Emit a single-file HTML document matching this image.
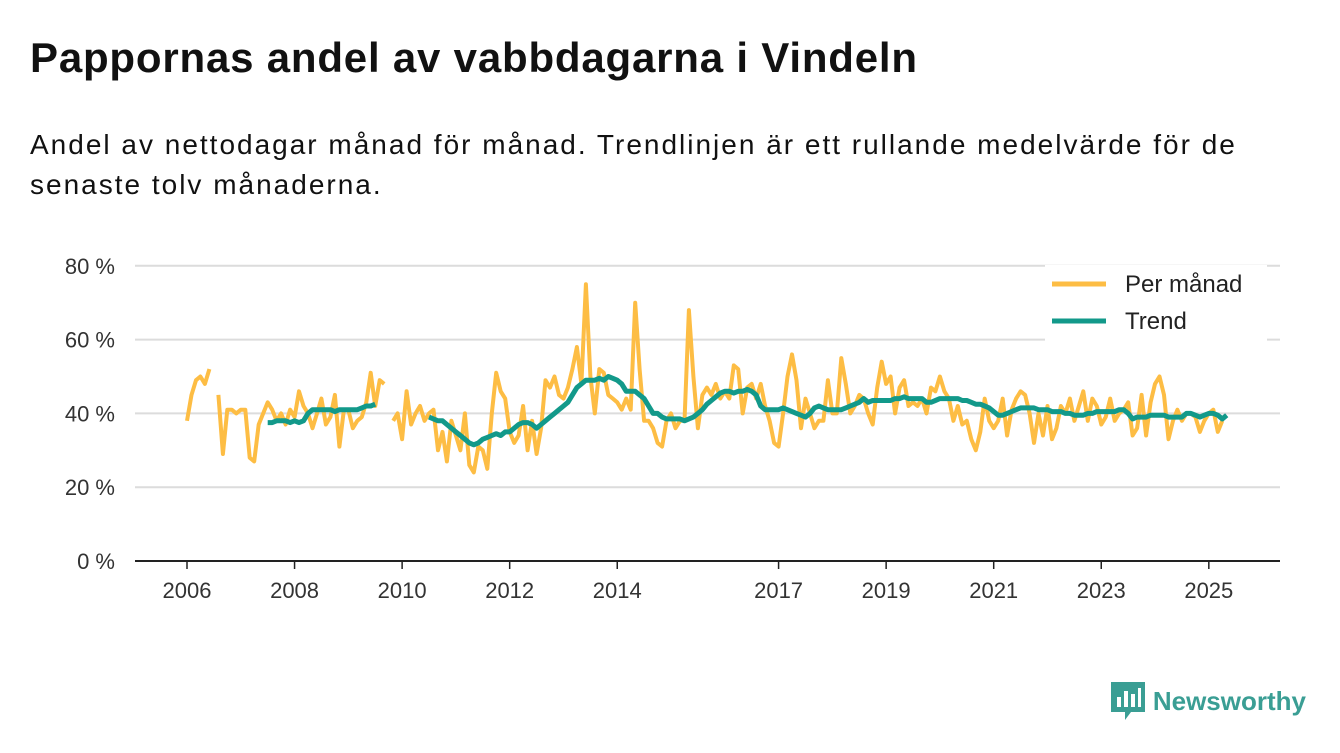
<!DOCTYPE html>
<html><head><meta charset="utf-8"><style>
body{margin:0;width:1340px;height:753px;background:#fff;font-family:"Liberation Sans","DejaVu Sans",sans-serif;overflow:hidden;position:relative}
h1{position:absolute;left:30px;top:34px;margin:0;font-size:42px;letter-spacing:0.8px;font-weight:bold;color:#111}
.sub{position:absolute;left:30px;top:125px;font-size:28px;letter-spacing:2px;line-height:40px;color:#111;width:1245px}
.logo{position:absolute;right:34px;top:682px;display:flex;align-items:center;font-size:26px;font-weight:bold;color:#3a9e94}
</style></head><body>
<h1>Pappornas andel av vabbdagarna i Vindeln</h1>
<div class="sub">Andel av nettodagar månad för månad. Trendlinjen är ett rullande medelvärde för de senaste tolv månaderna.</div>
<svg id="chart" width="1340" height="753" style="position:absolute;left:0;top:0"></svg>
<div class="logo">
<svg width="34" height="38" viewBox="0 0 34 38" style="margin-right:8px"><path d="M0 0H34V30H20L14 38V30H0Z" fill="#3a9e94"/><rect x="6" y="15" width="4" height="10" fill="#fff"/><rect x="13" y="9" width="4" height="16" fill="#fff"/><rect x="20" y="12" width="4" height="13" fill="#fff"/><rect x="27" y="6" width="3" height="19" fill="#fff"/></svg>Newsworthy</div>
<script>
const startYear=2006;
const monthly=[
[38,45,49,50,48,52,null,45,29,41,41,40],
[41,41,28,27,37,40,43,41,38,40,37,41],
[39,46,42,40,36,40,44,37,39,45,31,41],
[41,36,38,39,43,51,42,49,48,null,38,40],
[33,46,37,40,42,38,40,41,30,35,27,38],
[34,30,40,26,24,31,30,25,40,51,46,44],
[35,32,34,42,30,38,29,36,49,47,50,45],
[44,47,52,58,48,75,50,40,52,51,45,44],
[43,41,44,41,70,52,38,38,36,32,31,38],
[40,36,38,38,68,50,36,45,47,45,48,44],
[46,44,53,52,40,47,48,44,48,42,38,32],
[31,40,50,56,49,36,44,40,36,38,38,49],
[40,40,55,48,40,42,45,44,40,37,47,54],
[48,50,40,47,49,42,43,42,44,40,47,46],
[50,46,44,38,42,37,38,33,30,35,44,38],
[36,38,44,34,41,44,46,45,40,32,40,34],
[42,33,36,42,40,44,38,42,46,38,44,42],
[37,39,44,38,40,41,43,34,36,45,34,43],
[48,50,45,33,38,41,38,40,40,39,35,38],
[40,41,35,38]
];
const trend=[
[],
[null,null,null,null,null,null,37.5,37.5,38,38,38,37.5],
[38,37.5,38,40,41,41,41,41,41,40.5,41,41],
[41,41,41,41.5,42,42,42.5],
[null,null,null,null,null,null,39,38.5,38,38,37,36],
[35,34,33,32,31.5,32,33,33.5,34,34.5,34,35],
[35,36,37,37.5,37.5,37,36,37,38,39,40,41],
[42,43,45,47,48,49,49,49,49.5,49,50,49.5],
[49,48,46,46,46,45,44,42,40,40,39,38.5],
[38.5,38.5,38.5,38,38.5,39,40,41,42.5,43.5,44.5,45.5],
[46,46,45.5,46,46,46.5,46,45,42,41,41,41],
[41,41.5,41,40.5,40,39.5,39,40,41.5,42,41.5,41],
[41,41,41,41.5,42,42.5,43,44,43,43.5,43.5,43.5],
[43.5,43.5,44,44,44.5,44,44,44,44,43,43,43.5],
[44,44,44,44,44,43.5,43.5,43,42.5,42.5,42,41.5],
[40.5,39.5,39.5,40,40.5,41,41.5,41.5,41.5,41.5,41,41],
[41,40.5,40.5,40.5,40,40,39.5,39.5,39.5,40,40,40.5],
[40.5,40.5,40.5,40.5,41,41,40,38.5,39,39,39,39.5],
[39.5,39.5,39.5,39,39,39,39,40,40,39.5,39,39.5],
[40,40,39.5,38.5,39.5]
];
const yTicks=[0,20,40,60,80];
const xTicks=[2006,2008,2010,2012,2014,2017,2019,2021,2023,2025];
const NS="http://www.w3.org/2000/svg";
const svg=document.getElementById('chart');
const X=t=>187+(t-2006)*53.78;
const Y=v=>561-v*3.69;
function mk(tag,a){const e=document.createElementNS(NS,tag);for(const k in a)e.setAttribute(k,a[k]);svg.appendChild(e);return e;}
yTicks.forEach(v=>{
  if(v>0){const g=mk('line',{x1:135,x2:1280,y1:Y(v),y2:Y(v),stroke:'#dcdcdc','stroke-width':2});
  
  }
  const t=mk('text',{x:115,y:Y(v)+8,'text-anchor':'end','font-size':22,fill:'#333'});t.textContent=v+' %';
  
  
});
xTicks.forEach(y=>{
  const l=mk('line',{x1:X(y),x2:X(y),y1:561,y2:569,stroke:'#222','stroke-width':1.5});
  
  
  const t=mk('text',{x:X(y),y:598,'text-anchor':'middle','font-size':22,fill:'#333'});t.textContent=y;
  
  
});
const ax=mk('line',{x1:135,x2:1280,y1:561,y2:561,stroke:'#222','stroke-width':2});


function path(arr){let d='',pen=false;arr.forEach((row,yi)=>row.forEach((v,m)=>{
  if(v==null){pen=false;return;}const x=X(startYear+yi+m/12),y=Y(v);d+=(pen?'L':'M')+x.toFixed(1)+' '+y.toFixed(1);pen=true;}));return d;}
const p1=mk('path',{d:path(monthly),fill:'none',stroke:'#fdbd44','stroke-width':4,'stroke-linejoin':'round'});


const p2=mk('path',{d:path(trend),fill:'none',stroke:'#12998a','stroke-width':5,'stroke-linejoin':'round'});


const lb=mk('rect',{x:1045,y:265,width:222,height:76,fill:'#fff'});


[['Per månad','#fdbd44',284],['Trend','#12998a',321]].forEach(([n,c,y])=>{
  const l=mk('line',{x1:1052,x2:1106,y1:y,y2:y,stroke:c,'stroke-width':5});
  
  
  const t=mk('text',{x:1125,y:y+8,'font-size':24,fill:'#222'});t.textContent=n;
  
  
});
</script>
</body></html>
